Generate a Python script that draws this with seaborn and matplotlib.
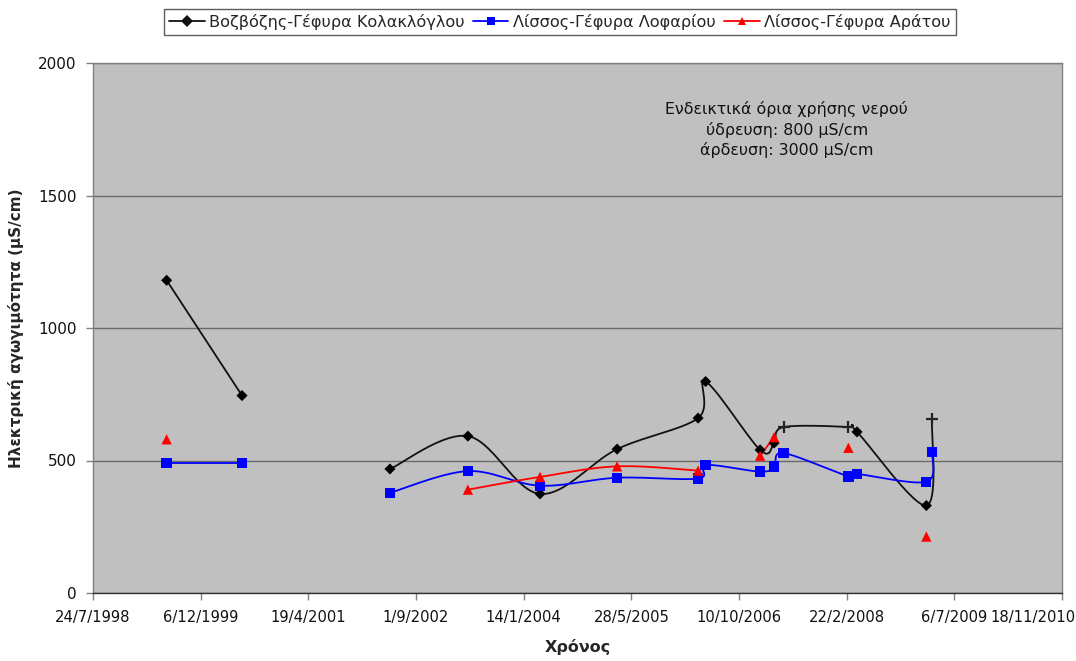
import numpy as np
import pandas as pd
import matplotlib
matplotlib.use("Agg")
import matplotlib.pyplot as plt
import matplotlib.dates as mdates
from matplotlib.transforms import ScaledTranslation
from matplotlib.lines import Line2D
import seaborn as sns

# ---------------- data ----------------
dates = ["1999-07-01", "2000-06-15", "2001-06-01", "2002-05-03", "2003-04-30",
         "2004-03-30", "2005-03-23", "2006-04-03", "2006-05-08", "2007-01-16",
         "2007-03-22", "2007-05-05", "2008-03-01", "2008-04-10", "2009-02-26",
         "2009-03-24"]
vozvozis = [1180, 745, np.nan, 468, 592, 374, 543, 660, 798, 540, 566, 626, 626, 608, 330, 657]
lofariou = [490, 490, np.nan, 378, 460, 405, 435, 432, 483, 458, 477, 528, 440, 449, 420, 533]
aratou = [580, np.nan, np.nan, np.nan, 390, 438, 478, 462, np.nan, 518, 588, np.nan, 548, np.nan, 213, np.nan]
vozvozis_plus = [11, 12, 15]   # points drawn with a '+' marker

series_names = ["Βοζβόζης-Γέφυρα Κολακλόγλου", "Λίσσος-Γέφυρα Λοφαρίου", "Λίσσος-Γέφυρα Αράτου"]
tick_labels = ["24/7/1998", "6/12/1999", "19/4/2001", "1/9/2002", "14/1/2004",
               "28/5/2005", "10/10/2006", "22/2/2008", "6/7/2009", "18/11/2010"]
y_ticks = [0, 500, 1000, 1500, 2000]
note_lines = ["Ενδεικτικά όρια χρήσης νερού", "ύδρευση: 800 μS/cm", "άρδευση: 3000 μS/cm"]

# ---------------- style ----------------
sns.set_theme(style="white")
plt.rcParams["font.family"] = ["DejaVu Sans"]

fig = plt.figure(figsize=(10.76, 6.61), dpi=100)
ax = fig.add_axes([93 / 1076, 68 / 661, 969 / 1076, 530 / 661])
ax.set_facecolor("#c0c0c0")

df = pd.DataFrame({"date": pd.to_datetime(dates), series_names[0]: vozvozis,
                   series_names[1]: lofariou, series_names[2]: aratou})
xnum = mdates.date2num(df["date"])


def smooth_segments(x, y, n=30):
    """Excel-like smoothed line (cubic Bezier, Catmull-Rom control points),
    broken at missing values."""
    x = np.asarray(x, float)
    y = np.asarray(y, float)
    segs, cur = [], []
    for i in range(len(x)):
        if np.isnan(y[i]):
            if cur:
                segs.append(cur)
            cur = []
        else:
            cur.append(i)
    if cur:
        segs.append(cur)
    out = []
    for s in segs:
        if len(s) < 2:
            continue
        P = np.column_stack([x[s], y[s]])
        Pp = np.vstack([P[0], P, P[-1]])
        xs, ys = [], []
        t = np.linspace(0, 1, n)[:, None]
        for k in range(len(P) - 1):
            p0, p1, p2, p3 = Pp[k], Pp[k + 1], Pp[k + 2], Pp[k + 3]
            c1 = p1 + (p2 - p0) / 6.0
            c2 = p2 - (p3 - p1) / 6.0
            B = ((1 - t) ** 3) * p1 + 3 * ((1 - t) ** 2) * t * c1 + 3 * (1 - t) * t ** 2 * c2 + t ** 3 * p2
            xs.append(B[:, 0])
            ys.append(B[:, 1])
        out.append((np.concatenate(xs), np.concatenate(ys)))
    return out


colors = ["#111111", "#0000ff", "#ff0000"]

for name, col in zip(series_names, colors):
    for sx, sy in smooth_segments(xnum, df[name].values):
        ax.plot(mdates.num2date(sx), sy, color=col, lw=1.3, zorder=3)

# markers via seaborn
black_df = df.dropna(subset=[series_names[0]])
mask_plus = black_df.index.isin(vozvozis_plus)
sns.scatterplot(data=black_df[~mask_plus], x="date", y=series_names[0], marker="D",
                s=32, color="#000000", edgecolor="none", ax=ax, zorder=4)
sns.scatterplot(data=black_df[mask_plus], x="date", y=series_names[0], marker="+",
                s=70, color="#222222", linewidth=1.6, ax=ax, zorder=4)
sns.scatterplot(data=df.dropna(subset=[series_names[1]]), x="date", y=series_names[1],
                marker="s", s=55, color="#0000ff", edgecolor="none", ax=ax, zorder=5)
sns.scatterplot(data=df.dropna(subset=[series_names[2]]), x="date", y=series_names[2],
                marker="^", s=55, color="#ff0000", edgecolor="none", ax=ax, zorder=6)

# axes
tick_pos = pd.to_datetime(tick_labels, format="%d/%m/%Y")
ax.set_xlim(tick_pos[0], tick_pos[-1])
ax.set_xticks(tick_pos)
ax.set_xticklabels(tick_labels, fontsize=10.6, color="#111111")
ax.set_ylim(0, 2000)
ax.set_yticks(y_ticks)
ax.set_yticklabels([str(v) for v in y_ticks], fontsize=11, color="#111111")
ax.yaxis.grid(True, color="#6a6a6a", lw=1)
ax.xaxis.grid(False)
ax.set_axisbelow(True)
ax.tick_params(axis="both", which="both", direction="out", length=5, width=1,
               color="#808080", pad=7, left=True, bottom=True)
for sp in ["left", "top", "right"]:
    ax.spines[sp].set_color("#808080")
    ax.spines[sp].set_linewidth(1)
ax.spines["bottom"].set_color("#303030")
ax.spines["bottom"].set_linewidth(1)

# keep the last date label inside the figure (as in the reference)
last = ax.get_xticklabels()[-1]
last.set_horizontalalignment("right")
last.set_transform(last.get_transform() + ScaledTranslation(0.135, 0, fig.dpi_scale_trans))

ax.set_xlabel("Χρόνος", fontsize=11.5, fontweight="bold", labelpad=10)
ax.set_ylabel("Ηλεκτρική αγωγιμότητα (μS/cm)", fontsize=11, fontweight="bold", labelpad=10)

ax.text(0.716, 0.874, "\n".join(note_lines), transform=ax.transAxes, ha="center",
        va="center", fontsize=11.4, color="#111111", linespacing=1.34)

# legend
handles = [Line2D([], [], color=c, marker=m, lw=1.3, markersize=6, markeredgewidth=0)
           for c, m in zip(colors, ["D", "s", "^"])]
leg = fig.legend(handles, series_names, loc="center", bbox_to_anchor=(560 / 1076, 1 - 22 / 661),
                 ncol=3, fontsize=11.6, frameon=True, fancybox=False, borderpad=0.3,
                 handlelength=2.2, handletextpad=0.3, columnspacing=0.5)
leg.get_frame().set_edgecolor("#333333")
leg.get_frame().set_linewidth(1)

fig.savefig("out.png", dpi=100)
